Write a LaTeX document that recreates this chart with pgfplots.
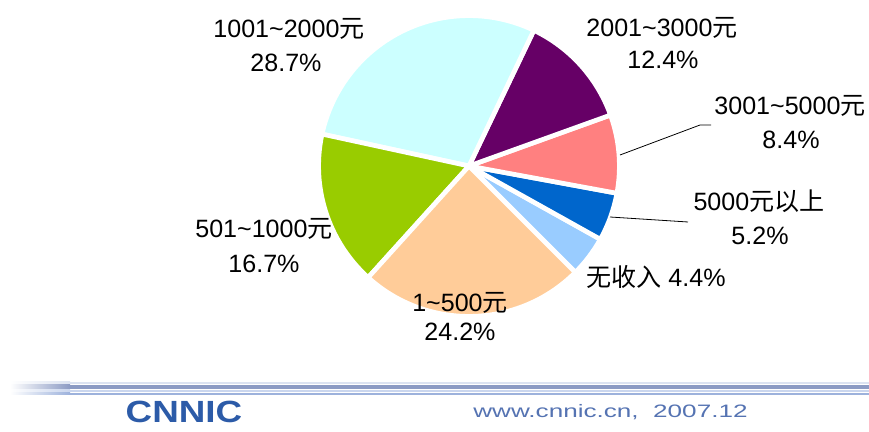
\documentclass[border=0pt]{standalone}
\usepackage{pgfplots}
\pgfplotsset{compat=1.18}
\usepackage{pgfplotstable}
\usepackage{fontspec}
\setmainfont{Liberation Sans}
\newfontfamily\cjk{Noto Sans CJK SC}

\definecolor{incNone}{HTML}{99CCFF}
\definecolor{incHigh}{HTML}{0066CC}
\definecolor{incA}{HTML}{FF8080}
\definecolor{incB}{HTML}{660066}
\definecolor{incC}{HTML}{CCFFFF}
\definecolor{incD}{HTML}{99CC00}
\definecolor{incE}{HTML}{FFCC99}
\definecolor{bandA}{HTML}{DCE3F1}
\definecolor{bandB}{HTML}{8C9BC4}
\definecolor{bandC}{HTML}{CAD6EE}
\definecolor{bandD}{HTML}{9DB2DC}
\definecolor{logoBlue}{HTML}{2C5BA8}
\definecolor{urlBlue}{HTML}{5573B2}

% monthly income shares (%), counter-clockwise from "no income"
\pgfplotstableread{
pct   colour
4.4   incNone
5.2   incHigh
8.4   incA
12.4  incB
28.7  incC
16.7  incD
24.2  incE
}\incometable

\newcommand\yuan{{\cjk 元}}
\newcommand\sq{\textasciitilde}

\begin{document}
\begin{tikzpicture}
\gdef\startang{-45}
\begin{axis}[
    x=0.75pt, y=0.75pt,
    xmin=0, xmax=869, ymin=0, ymax=432,
    scale only axis, hide axis, clip=false,
    anchor=origin, at={(0,0)},
]
\path (axis cs:0,0) rectangle (axis cs:869,432);

\pgfplotsinvokeforeach{0,...,6}{%
  \pgfplotstablegetelem{#1}{pct}\of\incometable
  \pgfmathsetmacro\endang{\startang+3.6*\pgfplotsretval}%
  \pgfplotstablegetelem{#1}{colour}\of\incometable
  \edef\slicecmd{\noexpand\fill[fill=\pgfplotsretval, draw=white, line width=3.5pt]
    (axis cs:469,266) -- ++(\startang:112.8pt)
    arc[start angle=\startang, end angle=\endang, radius=112.8pt] -- cycle;}%
  \slicecmd
  \global\let\startang\endang
}

% leader lines
\draw[black, line width=0.6pt] (axis cs:620,277) -- (axis cs:700,307) -- (axis cs:711,307);
\draw[black, line width=0.6pt] (axis cs:610,215) -- (axis cs:688,210);

% labels
\begin{scope}[every node/.style={anchor=base, inner sep=0pt, font=\fontsize{18.8}{20}\selectfont}]
\node at (axis cs:289,394) {1001\sq 2000\yuan};
\node at (axis cs:286,360) {28.7\%};
\node at (axis cs:662,395) {2001\sq 3000\yuan};
\node at (axis cs:663,363) {12.4\%};
\node at (axis cs:790,317) {3001\sq 5000\yuan};
\node at (axis cs:791,283) {8.4\%};
\node at (axis cs:759,221) {5000{\cjk 元以上}};
\node at (axis cs:760,187) {5.2\%};
\node[anchor=base west] at (axis cs:586,145) {{\cjk 无收入} 4.4\%};
\node at (axis cs:264,194) {501\sq 1000\yuan};
\node at (axis cs:264,159) {16.7\%};
\node at (axis cs:460,120) {1\sq 500\yuan};
\node at (axis cs:460,91) {24.2\%};
\end{scope}

% footer band
\shade[left color=white, right color=bandA] (axis cs:10,50) rectangle (axis cs:70,48);
\fill[bandA] (axis cs:70,50) rectangle (axis cs:869,48);
\shade[left color=white, right color=bandB] (axis cs:10,47) rectangle (axis cs:70,43);
\fill[bandB] (axis cs:70,47) rectangle (axis cs:869,43);
\shade[left color=white, right color=bandC] (axis cs:10,42) rectangle (axis cs:70,40);
\fill[bandC] (axis cs:70,42) rectangle (axis cs:869,40);
\shade[left color=white, right color=bandD] (axis cs:10,39) rectangle (axis cs:70,37);
\fill[bandD] (axis cs:70,39) rectangle (axis cs:869,37);

\node[anchor=base, inner sep=0pt, font=\bfseries\fontsize{23}{24}\selectfont, text=logoBlue, xscale=1.2] at (axis cs:184,9) {CNNIC};
\node[anchor=base west, inner sep=0pt, font=\fontsize{13.5}{15}\selectfont, text=urlBlue, xscale=1.45] at (axis cs:473,14) {www.cnnic.cn,\ \ 2007.12};
\end{axis}
\end{tikzpicture}
\end{document}
